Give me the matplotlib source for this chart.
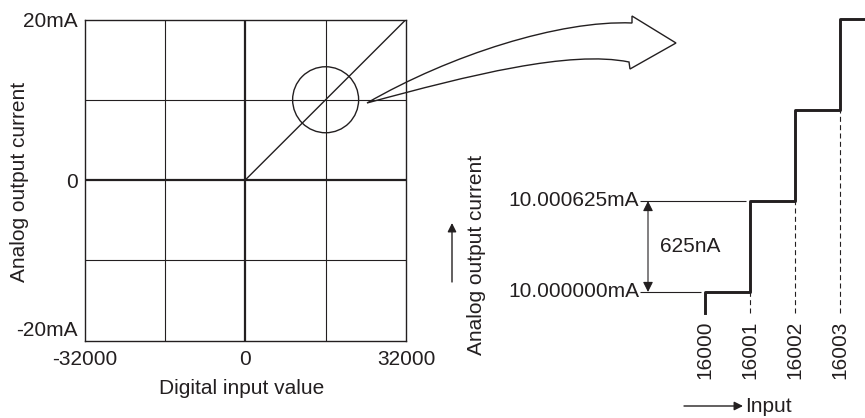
import matplotlib
matplotlib.use('Agg')
import matplotlib.pyplot as plt
import matplotlib.transforms as mtransforms
from matplotlib.path import Path
from matplotlib.patches import PathPatch, Ellipse

plt.rcParams['font.family'] = ['Liberation Sans', 'DejaVu Sans']
plt.rcParams['font.size'] = 15

INK = '#231f20'
W, H = 865, 418

# --- overall characteristic (left) ---
digital_ticks = [-32000, 0, 32000]
digital_labels = ['-32000', '0', '32000']
analog_ticks = [-20, 0, 20]
analog_labels = ['-20mA', '0', '20mA']
line_digital = [0, 32000]
line_analog = [0, 20]
zoom_center = (16000, 10)

# --- zoomed staircase (right) ---
input_codes = [16000, 16001, 16002, 16003]
output_mA = [10.000000, 10.000625, 10.001250, 10.001875]
step_label = '625nA'

fig = plt.figure(figsize=(W / 100, H / 100), dpi=100)
# pixel coords, origin top-left
pix = mtransforms.Affine2D().scale(1 / W, -1 / H).translate(0, 1) + fig.transFigure

# ---------- left chart ----------
ax1 = fig.add_axes([84.5 / W, (H - 340.5) / H, 321.5 / W, 321 / H])
ax1.set_xlim(digital_ticks[0], digital_ticks[-1])
ax1.set_ylim(analog_ticks[0], analog_ticks[-1])
for s in ax1.spines.values():
    s.set_linewidth(1.0)
    s.set_color(INK)
for x in (digital_ticks[0] / 2, digital_ticks[-1] / 2):
    ax1.axvline(x, color=INK, lw=0.8)
for y in (analog_ticks[0] / 2, analog_ticks[-1] / 2):
    ax1.axhline(y, color=INK, lw=0.8)
ax1.axvline(0, color=INK, lw=1.6)
ax1.axhline(0, color=INK, lw=1.6)
ax1.plot(line_digital, line_analog, color=INK, lw=1.0)

r_px = 33
ax1.add_patch(Ellipse(zoom_center,
                      width=2 * r_px / 321.5 * (digital_ticks[-1] - digital_ticks[0]),
                      height=2 * r_px / 321 * (analog_ticks[-1] - analog_ticks[0]),
                      fill=False, ec=INK, lw=1.0))

ax1.set_xticks(digital_ticks, digital_labels)
ax1.set_yticks(analog_ticks, analog_labels)
ax1.tick_params(length=0, colors=INK)
ax1.tick_params(axis='x', pad=7)
ax1.tick_params(axis='y', pad=5)
ylabs = ax1.get_yticklabels()
ylabs[0].set_va('bottom')

fig.text(19.5, 182, 'Analog output current', rotation=90, ha='center', va='center',
         color=INK, transform=pix)
fig.text(242, 388, 'Digital input value', ha='center', va='center', color=INK, transform=pix)

# hollow curved arrow
verts = [(367, 103), (450, 55), (560, 20), (632, 23),
         (632, 16), (676, 43), (630, 69), (629, 62),
         (570, 50), (470, 75), (367, 103), (367, 103)]
codes = [Path.MOVETO, Path.CURVE4, Path.CURVE4, Path.CURVE4,
         Path.LINETO, Path.LINETO, Path.LINETO, Path.LINETO,
         Path.CURVE4, Path.CURVE4, Path.CURVE4, Path.CLOSEPOLY]
fig.add_artist(PathPatch(Path(verts, codes), transform=pix, fill=False, ec=INK, lw=1.0))

# ---------- right chart ----------
step = output_mA[1] - output_mA[0]
run_px, rise_px = 45, 91
x0_px, y0_px = 705, 292


def xr(px):
    return input_codes[0] + (px - x0_px) / run_px


def yr(py):
    return output_mA[0] + (y0_px - py) / rise_px * step


ax2 = fig.add_axes([440 / W, 0, 425 / W, 1])
ax2.set_xlim(xr(440), xr(865))
ax2.set_ylim(yr(418), yr(0))
ax2.axis('off')

y_base = yr(313)
xs = [input_codes[0]] + input_codes + [input_codes[-1] + 1]
ys = [y_base] + output_mA + [output_mA[-1]]
ax2.step(xs, ys, where='post', color=INK, lw=2.1)

for i in range(1, len(input_codes)):
    ax2.plot([input_codes[i]] * 2, [y_base, output_mA[i - 1]], color=INK, lw=0.8,
             linestyle=(0, (4.5, 3)))

ax2.hlines(output_mA[0], xr(640), xr(701), color=INK, lw=0.8)
ax2.hlines(output_mA[1], xr(640), xr(746), color=INK, lw=0.8)
for v in output_mA[:2]:
    ax2.text(xr(639), v, f'{v:.6f}mA', ha='right', va='center', color=INK)

ax2.annotate('', xy=(xr(648), output_mA[1]), xytext=(xr(648), output_mA[0]),
             arrowprops=dict(arrowstyle='<|-|>', color=INK, lw=0.8,
                             shrinkA=0, shrinkB=0, mutation_scale=15))
ax2.text(xr(690), (output_mA[0] + output_mA[1]) / 2, step_label,
         ha='center', va='center', color=INK)

for c in input_codes:
    ax2.text(c, yr(321), str(c), rotation=90, ha='center', va='top', color=INK)

fig.text(477, 255, 'Analog output current', rotation=90, ha='center', va='center',
         color=INK, transform=pix)
ax2.annotate('', xy=(452, 223), xytext=(452, 282), xycoords=pix, textcoords=pix,
             arrowprops=dict(arrowstyle='-|>', color=INK, lw=1.0,
                             shrinkA=0, shrinkB=0, mutation_scale=13))
ax2.annotate('', xy=(743, 406), xytext=(684, 406), xycoords=pix, textcoords=pix,
             arrowprops=dict(arrowstyle='-|>', color=INK, lw=1.0,
                             shrinkA=0, shrinkB=0, mutation_scale=13))
fig.text(745, 406, 'Input', ha='left', va='center', color=INK, transform=pix)

fig.savefig('out.png', dpi=100)
